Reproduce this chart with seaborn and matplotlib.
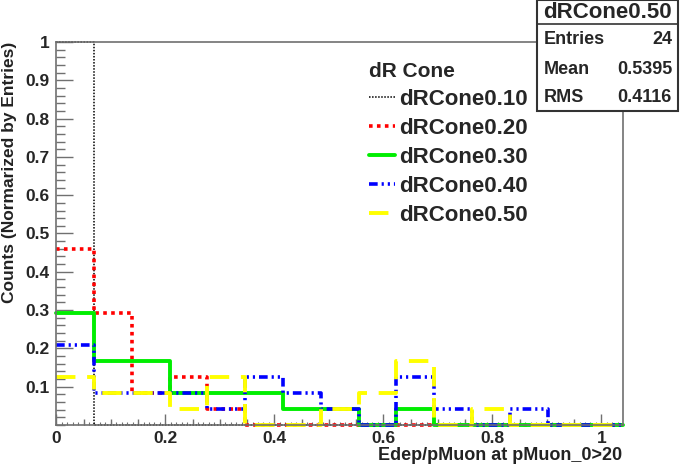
import numpy as np
import seaborn as sns
import matplotlib.pyplot as plt
from matplotlib.patches import Rectangle
from matplotlib.lines import Line2D

# histogram bins (15 bins), counts per bin out of 24 entries
bin_edges = list(np.linspace(0, 1.04, 16))
entries = 24

cone_labels = ["dRCone0.10", "dRCone0.20", "dRCone0.30", "dRCone0.40", "dRCone0.50"]
counts_010 = [24, 0, 0, 0, 0, 0, 0, 0, 0, 0, 0, 0, 0, 0, 0]
counts_020 = [11, 7, 2, 3, 1, 0, 0, 0, 0, 0, 0, 0, 0, 0, 0]
counts_030 = [7, 4, 4, 2, 2, 2, 1, 1, 0, 1, 0, 0, 0, 0, 0]
counts_040 = [5, 2, 2, 2, 1, 3, 2, 1, 0, 3, 1, 0, 1, 0, 0]
counts_050 = [3, 2, 2, 1, 3, 0, 0, 1, 2, 4, 0, 1, 0, 0, 0]

stat_names = ["Entries", "Mean", "RMS"]
stat_values = ["24", "0.5395", "0.4116"]

x_label = "Edep/pMuon at pMuon_0>20"
y_label = "Counts (Normarized by Entries)"

colors = ["black", "#ff0000", "#00ee00", "#0000ff", "#ffff00"]
styles = [(0, (1, 1)), (0, (1, 1.2)), "-", (0, (2.4, 1.1, 0.6, 1.1, 0.6, 1.1)), (0, (5, 3))]
widths = [1.1, 2.6, 2.8, 2.6, 2.8]

sns.set_style("ticks")
plt.rcParams['font.family'] = ['Liberation Sans', 'DejaVu Sans']
plt.rcParams['font.weight'] = 'bold'

fig = plt.figure(figsize=(6.81, 4.69), dpi=100)
ax = fig.add_axes([56.3 / 681, 1 - 425 / 469, (623.2 - 56.3) / 681, (425 - 42) / 469])

centers = (np.array(bin_edges[:-1]) + np.array(bin_edges[1:])) / 2
all_counts = [counts_010, counts_020, counts_030, counts_040, counts_050]
for lab, cnt, col, ls, lw in zip(cone_labels, all_counts, colors, styles, widths):
    sns.histplot(x=centers, weights=np.array(cnt) / entries, bins=bin_edges,
                 element="step", fill=False, color=col, linestyle=ls,
                 linewidth=lw, ax=ax, label=lab, clip_on=False)

ax.set_xlim(0, 1.04)
ax.set_ylim(0, 1)
ax.set_xlabel("")
ax.set_ylabel("")

frame_col = "#707070"
for s in ax.spines.values():
    s.set_color(frame_col)
    s.set_linewidth(1.2)

ax.set_xticks(np.arange(0, 1.01, 0.2))
ax.set_xticklabels(["0", "0.2", "0.4", "0.6", "0.8", "1"])
ax.set_xticks(np.arange(0, 1.04, 0.05), minor=True)
ax.set_yticks(np.arange(0.1, 1.01, 0.1))
ax.set_yticklabels(["0.1", "0.2", "0.3", "0.4", "0.5", "0.6", "0.7", "0.8", "0.9", "1"])
ax.set_yticks(np.arange(0, 1.001, 0.02), minor=True)
ax.tick_params(axis="x", which="major", direction="in", length=8, width=1, color=frame_col,
               labelsize=12.5, pad=4)
ax.tick_params(axis="x", which="minor", direction="in", length=4, width=1, color=frame_col)
ax.tick_params(axis="y", which="major", direction="in", length=12.5, width=1, color=frame_col,
               labelsize=12.5, pad=5)
ax.tick_params(axis="y", which="minor", direction="in", length=6.5, width=1, color=frame_col)
for t in ax.get_xticklabels() + ax.get_yticklabels():
    t.set_fontweight("bold")

# finest x ticks every 0.01
sec = ax.secondary_xaxis("bottom")
sec.set_xticks(np.arange(0, 1.04, 0.01))
sec.set_xticklabels([])
sec.tick_params(direction="in", length=2, width=0.8, color=frame_col)
sec.spines["bottom"].set_visible(False)

fig.text(622 / 681, 1 - 455 / 469, x_label, ha="right", va="center",
         fontsize=13, fontweight="bold", color="#222222")
fig.text(10 / 681, 1 - 42 / 469, y_label, ha="center", va="top", rotation=90,
         fontsize=12.5, fontweight="bold", color="#222222")

# legend
handles = [Line2D([], [], color=c, linestyle=ls, linewidth=lw)
           for c, ls, lw in zip(colors, styles, widths)]
leg = ax.legend(handles, cone_labels, title="dR Cone", loc="upper left",
                bbox_to_anchor=(369 / 681, 1 - 62 / 469), bbox_transform=fig.transFigure,
                frameon=False, borderpad=0, borderaxespad=0, handlelength=1.15,
                handletextpad=0.2, labelspacing=0.36, alignment="left",
                prop={"size": 16, "weight": "bold"},
                title_fontproperties={"size": 15, "weight": "bold"})

# stats box
bx0, bx1 = 537 / 681, 678 / 681
by0, by1 = 1 - 111 / 469, 1.0
fig.patches.append(Rectangle((bx0, by0), bx1 - bx0, by1 - by0, transform=fig.transFigure,
                             facecolor="white", edgecolor="#333333", linewidth=1.5, zorder=5))
fig.lines.append(Line2D([bx0, bx1], [1 - 24 / 469] * 2, transform=fig.transFigure,
                        color="#333333", linewidth=1.2, zorder=6))
fig.text((bx0 + bx1) / 2, 1 - 12 / 469, "dRCone0.50", ha="center", va="center",
         fontsize=16, fontweight="bold", zorder=7)
for i, (nm, val) in enumerate(zip(stat_names, stat_values)):
    yy = 1 - (40 + 29 * i) / 469
    fig.text(544 / 681, yy, nm, ha="left", va="center", fontsize=13, fontweight="bold", zorder=7)
    fig.text(672 / 681, yy, val, ha="right", va="center", fontsize=13, fontweight="bold", zorder=7)

fig.savefig("out.png", dpi=100)
